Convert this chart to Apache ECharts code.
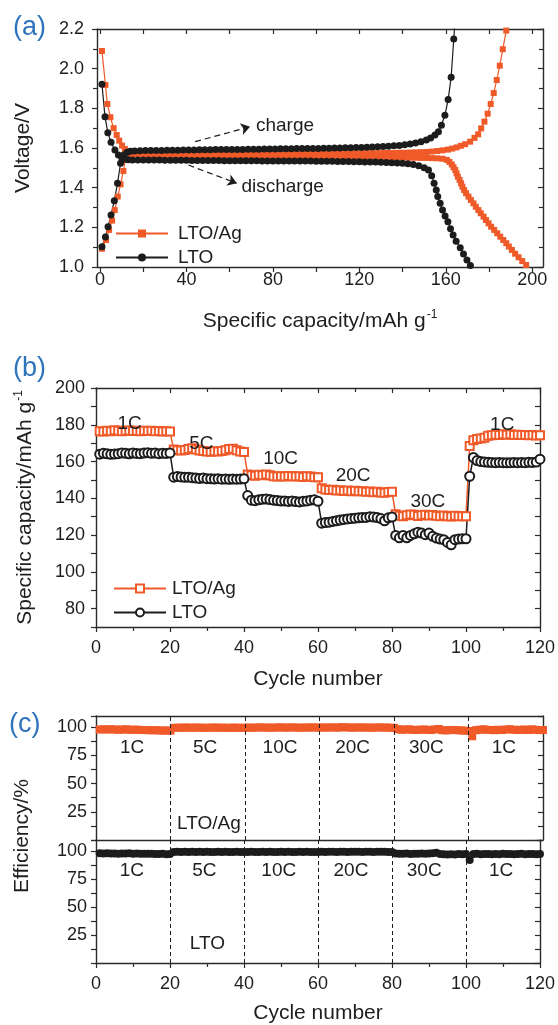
<!DOCTYPE html>
<html>
<head>
<meta charset="utf-8">
<script src="https://cdn.jsdelivr.net/npm/echarts@6/dist/echarts.min.js"></script>
<style>
html, body { margin: 0; padding: 0; background: #fff; }
#chart { width: 558px; height: 1025px; }
</style>
</head>
<body>
<div id="chart"></div>
<script>
// (a) charge/discharge profiles: [capacity mAh/g, voltage V]
var ltoAgCharge = [
  [0.9,1.092],[2.8,1.136],[4.2,1.187],[5.6,1.234],[6.8,1.287],[8.2,1.355],[9.5,1.417],[10.8,1.484],[11.7,1.540],[13,1.560],[14.5,1.567],
  [16,1.569],[18.5,1.570],[21,1.571],[23.5,1.571],[26,1.571],[28.5,1.572],[31,1.572],[33.5,1.572],[36,1.572],[38.5,1.572],
  [41,1.572],[43.5,1.572],[46,1.572],[48.5,1.573],[51,1.573],[53.5,1.573],[56,1.573],[58.5,1.573],[61,1.573],[63.5,1.573],
  [66,1.573],[68.5,1.573],[71,1.573],[73.5,1.573],[76,1.573],[78.5,1.573],[81,1.573],[83.5,1.573],[86,1.573],[88.5,1.573],
  [91,1.573],[93.5,1.573],[96,1.573],[98.5,1.573],[101,1.573],[103.5,1.573],[106,1.573],[108.5,1.573],[111,1.573],[113.5,1.573],
  [116,1.573],[118.5,1.573],[121,1.573],[123.5,1.574],[126,1.574],[128.5,1.574],[131,1.575],[133.5,1.575],[136,1.575],[138.5,1.576],
  [141,1.576],[143.5,1.577],[146,1.578],[148.5,1.579],[151,1.580],[153.5,1.582],[156,1.585],[158.5,1.588],[161,1.592],[163,1.597],
  [165,1.603],[167,1.611],[169,1.619],[171.3,1.632],[173.3,1.651],[175,1.669],[176.4,1.699],[177.9,1.733],[179.4,1.773],[180.8,1.822],
  [182.2,1.877],[183.6,1.943],[185,2.015],[186.4,2.098],[188,2.192],[188.5,2.240]
];
var ltoAgDischarge = [
  [0.9,2.089],[2.5,1.918],[3.4,1.822],[4.8,1.755],[6.3,1.700],[7.7,1.666],[8.9,1.637],[10.2,1.612],[11.5,1.595],[13,1.583],[14.5,1.575],
  [16,1.570],[18.5,1.567],[21,1.565],[23.5,1.564],[26,1.563],[28.5,1.562],[31,1.562],[33.5,1.561],[36,1.561],[38.5,1.560],
  [41,1.560],[43.5,1.560],[46,1.559],[48.5,1.559],[51,1.559],[53.5,1.559],[56,1.558],[58.5,1.558],[61,1.558],[63.5,1.558],
  [66,1.558],[68.5,1.557],[71,1.557],[73.5,1.557],[76,1.557],[78.5,1.557],[81,1.557],[83.5,1.556],[86,1.556],[88.5,1.556],
  [91,1.556],[93.5,1.556],[96,1.556],[98.5,1.555],[101,1.555],[103.5,1.555],[106,1.555],[108.5,1.555],[111,1.555],[113.5,1.554],
  [116,1.554],[118.5,1.554],[121,1.554],[123.5,1.554],[126,1.553],[128.5,1.553],[131,1.553],[133.5,1.553],[136,1.552],[138.5,1.552],
  [141,1.552],[143.5,1.551],[146,1.551],[148.5,1.550],[151,1.550],[153.5,1.549],[156,1.548],[158.5,1.546],
  [160.5,1.540],[161.7,1.530],[162.8,1.517],[163.6,1.503],[164.4,1.489],[165.0,1.472],[165.6,1.455],[166.4,1.439],[167.1,1.422],
  [167.7,1.405],[168.5,1.388],[169.4,1.372],[170.5,1.355],[171.6,1.338],[172.8,1.321],[173.9,1.304],[175.1,1.287],[176.2,1.271],
  [177.5,1.254],[178.6,1.237],[179.8,1.220],[181.0,1.203],[182.4,1.187],[183.8,1.170],[185.2,1.153],[186.6,1.136],[188.0,1.120],
  [189.2,1.103],[190.6,1.086],[192.1,1.067],[193.7,1.049],[195.4,1.030],[197.2,1.010]
];
var ltoCharge = [
  [0.9,1.102],[2.5,1.151],[3.7,1.203],[5.1,1.262],[6.6,1.334],[8.1,1.422],[9.5,1.523],[11,1.565],[12.5,1.578],[14,1.583],
  [16,1.585],[18.5,1.586],[21,1.587],[23.5,1.587],[26,1.588],[28.5,1.588],[31,1.589],[33.5,1.589],[36,1.589],[38.5,1.590],
  [41,1.590],[43.5,1.590],[46,1.591],[48.5,1.591],[51,1.591],[53.5,1.592],[56,1.592],[58.5,1.592],[61,1.593],[63.5,1.593],
  [66,1.593],[68.5,1.594],[71,1.594],[73.5,1.594],[76,1.595],[78.5,1.595],[81,1.595],[83.5,1.596],[86,1.596],[88.5,1.596],
  [91,1.597],[93.5,1.597],[96,1.597],[98.5,1.598],[101,1.598],[103.5,1.599],[106,1.599],[108.5,1.600],[111,1.600],[113.5,1.601],
  [116,1.601],[118.5,1.602],[121,1.603],[123.5,1.604],[126,1.605],[128.5,1.606],[131,1.607],[133.5,1.609],[136,1.611],[138.5,1.613],
  [141,1.616],[143.5,1.620],[146,1.625],[148.5,1.631],[151,1.640],[153,1.650],[155,1.665],[156.6,1.682],[158,1.715],[159.6,1.765],
  [161.1,1.844],[162.5,1.957],[163.7,2.150],[164.4,2.250]
];
var ltoDischarge = [
  [0.9,1.921],[2.3,1.758],[3.6,1.677],[5.1,1.629],[6.9,1.590],[8.5,1.565],[10,1.552],[11.5,1.545],[13,1.541],
  [15,1.540],[17.5,1.540],[20,1.539],[22.5,1.539],[25,1.539],[27.5,1.539],[30,1.538],[32.5,1.538],[35,1.538],[37.5,1.538],
  [40,1.538],[42.5,1.537],[45,1.537],[47.5,1.537],[50,1.537],[52.5,1.537],[55,1.537],[57.5,1.536],[60,1.536],[62.5,1.536],
  [65,1.536],[67.5,1.536],[70,1.536],[72.5,1.536],[75,1.535],[77.5,1.535],[80,1.535],[82.5,1.535],[85,1.535],[87.5,1.534],
  [90,1.534],[92.5,1.534],[95,1.534],[97.5,1.534],[100,1.533],[102.5,1.533],[105,1.533],[107.5,1.533],[110,1.532],[112.5,1.532],
  [115,1.532],[117.5,1.531],[120,1.531],[122.5,1.530],[125,1.530],[127.5,1.529],[130,1.528],[132.5,1.527],[135,1.526],[137.5,1.525],
  [140,1.523],[142.5,1.521],[145,1.517],[147.5,1.510],[150,1.500],[152,1.489],[153.5,1.460],[154.6,1.422],[155.6,1.388],[156.3,1.355],
  [157.4,1.321],[158.5,1.287],[159.7,1.257],[161,1.228],[162.2,1.193],[163.4,1.161],[164.8,1.130],[166.7,1.097],[168.2,1.066],
  [169.8,1.035],[171.4,1.008],[172.3,0.985]
];

// (b) rate capability, cycles 1..120 (mAh/g)
var ltoAgCapacity = [
  176.5,176.3,176.8,176.5,177.0,176.8,176.5,176.7,176.9,176.6,176.8,176.5,176.7,176.6,176.8,176.5,176.6,176.4,176.5,176.3,
  166.5,166.2,166.0,166.3,166.8,167.2,166.5,166.0,165.8,165.5,165.3,165.6,165.4,165.8,166.2,166.8,167.0,166.2,165.5,165.2,
  153.0,152.5,152.3,152.8,152.6,153.0,152.5,152.0,151.8,152.0,151.8,152.2,152.0,151.8,152.0,151.6,152.0,151.8,151.5,151.4,
  145.5,144.8,144.5,144.6,144.2,144.4,144.0,144.3,143.9,144.1,143.8,143.9,143.5,143.7,143.3,143.6,143.2,143.0,143.4,143.5,
  131.3,130.5,130.2,130.8,131.2,131.0,130.4,130.8,131.0,130.6,130.9,130.5,130.2,130.6,130.3,130.1,130.5,130.2,130.3,130.2,
  168.4,171.6,172.3,172.5,173.0,174.0,174.3,174.6,174.5,174.8,174.6,174.8,174.5,174.6,174.4,174.5,174.3,174.4,174.2,174.3
];
var ltoCapacity = [
  164.0,164.5,164.2,163.9,164.1,164.3,164.7,164.5,164.2,164.6,164.4,164.3,164.6,164.8,164.5,164.6,164.3,164.5,164.4,164.6,
  151.5,151.8,151.6,151.4,151.5,151.2,151.0,150.8,151.0,150.7,150.6,150.5,150.7,150.4,150.5,150.3,150.5,150.4,150.5,150.6,
  141.5,139.0,138.7,139.2,139.5,139.6,139.3,139.0,138.8,138.5,138.6,138.3,138.5,138.2,138.0,138.4,138.6,139.0,139.2,138.4,
  126.5,126.8,127.0,127.4,127.8,128.2,128.5,128.8,129.0,129.2,129.4,129.5,129.6,130.0,129.8,129.5,129.0,127.8,129.4,129.8,
  119.8,118.5,119.8,118.5,119.8,120.7,121.6,121.1,120.2,121.1,119.3,118.4,117.8,117.5,116.0,114.7,117.5,117.8,118.0,118.0,
  152.0,162.2,160.5,160.0,159.8,159.6,159.5,159.4,159.5,159.4,159.3,159.4,159.5,159.4,159.5,159.4,159.6,159.5,159.7,161.3
];

// (c) coulombic efficiency, cycles 1..120 (%)
var ltoAgEfficiency = [
  98.0,98.2,98.0,98.3,98.0,97.8,98.0,98.2,97.9,97.8,97.9,97.6,97.5,97.5,97.3,97.4,97.2,97.0,97.2,97.0,
  99.5,99.7,99.6,99.8,99.7,99.6,99.8,99.7,99.5,99.6,99.7,99.8,99.6,99.7,99.5,99.6,99.7,99.6,99.5,99.6,
  99.7,99.6,99.8,99.9,99.7,99.8,99.6,99.7,99.9,99.8,99.7,99.8,99.9,99.7,99.6,99.8,99.7,99.9,99.8,99.7,
  99.8,99.7,99.9,99.8,99.7,100.1,99.9,99.8,99.7,99.8,99.9,99.7,99.8,99.6,99.8,99.9,99.7,99.8,99.6,99.5,
  98.3,97.8,98.0,98.2,97.8,97.6,97.9,98.0,97.8,97.6,98.1,98.5,97.4,97.2,97.5,97.6,97.4,97.2,97.0,96.8,
  92.0,97.4,97.8,98.2,97.8,97.6,97.4,97.8,97.6,98.0,98.3,97.9,97.6,97.8,98.0,97.6,98.2,97.8,97.5,97.6
];
var ltoEfficiency = [
  98.2,98.0,98.1,97.9,98.0,97.8,98.0,97.9,98.1,97.8,98.0,97.7,97.8,97.6,97.8,97.5,97.4,97.6,97.3,97.5,
  99.2,99.4,99.3,99.5,99.3,99.4,99.2,99.5,99.3,99.4,99.2,99.3,99.5,99.3,99.4,99.2,99.3,99.4,99.3,99.2,
  99.3,99.4,99.2,99.3,99.5,99.3,99.4,99.2,99.3,99.4,99.3,99.5,99.3,99.2,99.4,99.3,99.4,99.3,99.2,99.3,
  99.4,99.3,99.5,99.4,99.3,99.4,99.5,99.3,99.4,99.5,99.4,99.3,99.4,99.5,99.3,99.4,99.5,99.4,99.3,99.2,
  98.0,97.6,97.8,98.0,97.5,97.8,97.6,98.0,97.7,97.9,98.2,98.6,97.5,97.2,97.0,97.3,97.1,97.4,97.2,97.5,
  92.2,97.4,97.6,97.3,97.5,97.4,97.2,97.5,97.3,97.6,97.4,97.5,97.3,97.4,97.6,97.3,97.5,97.4,97.2,97.4
];

// rate step boundaries and text labels [x, y, text]
var rateBounds = [20, 40, 60, 80, 100];
var rateLabelsB = [[9.1,180.4,'1C'],[28.5,169.4,'5C'],[49.9,161.3,'10C'],[69.5,152,'20C'],[89.7,138.3,'30C'],[109.8,179.8,'1C']];
var rateLabelsCTop = [[9.7,82,'1C'],[29.3,82,'5C'],[49.4,82,'10C'],[68.9,82,'20C'],[88.7,82,'30C'],[109.5,82,'1C'],[30.3,14.4,'LTO/Ag']];
var rateLabelsCBot = [[9.7,82.6,'1C'],[29.3,82.6,'5C'],[49.4,82.6,'10C'],[68.9,82.6,'20C'],[88.7,82.6,'30C'],[109.5,82.6,'1C'],[30.1,17.2,'LTO']];
var profileLabels = [[85.6,1.711,'charge'],[84.5,1.403,'discharge']];

// axis ticks / labels
var capTicks = [0, 20, 40, 60, 80, 100, 120, 140, 160, 180, 200];
var capLabels = [0, 40, 80, 120, 160, 200];

var cycles = [];
for (var i = 1; i <= 120; i++) cycles.push(i);
function pairs(vals) {
  return vals.map(function (v, i) { return [cycles[i], v]; });
}

var orange = '#ef5a28';
var black = '#1c1c1c';
var axisColor = '#2a2a2a';
var textColor = '#1e1e1e';
var fontFamily = '"Liberation Sans", Arial, sans-serif';
var tickFont = 18;
var nameFont = 21;
var noteFont = 19;

var myChart = echarts.init(document.getElementById('chart'), null, { renderer: 'canvas' });

function axisLine() {
  return { show: true, onZero: false, lineStyle: { color: axisColor, width: 1.4 } };
}
function tickStyle() {
  return { color: axisColor, width: 1.2 };
}
function labelStyle(margin, extra) {
  return Object.assign({ color: textColor, fontSize: tickFont, fontFamily: fontFamily, margin: margin }, extra || {});
}
function nameStyle() {
  return {
    color: textColor, fontSize: nameFont, fontFamily: fontFamily,
    rich: { sup: { fontSize: 12, fontFamily: fontFamily, color: textColor, verticalAlign: 'top', padding: [0, 0, 12, 1] } }
  };
}
function mirror(grid, pos, opts) {
  var a = {
    gridIndex: grid, type: 'value', position: pos,
    axisLine: axisLine(), splitLine: { show: false },
    axisTick: { show: true, inside: true, length: 5, lineStyle: tickStyle() },
    axisLabel: { show: false }
  };
  return Object.assign(a, opts);
}
function labelSeries(data, xi, yi, size) {
  return {
    type: 'scatter', xAxisIndex: xi, yAxisIndex: yi, silent: true, z: 10,
    symbolSize: 0, data: data,
    itemStyle: { color: textColor },
    label: {
      show: true, position: 'inside', color: textColor, fontSize: size, fontFamily: fontFamily,
      textBorderWidth: 0, textBorderColor: 'transparent', opacity: 1,
      formatter: function (p) { return p.value[2]; }
    }
  };
}
function cycleAxis(grid, gap, margin) {
  return {
    gridIndex: grid, type: 'value', position: 'bottom', min: 0, max: 120, interval: 20,
    axisLine: axisLine(), splitLine: { show: false },
    axisTick: { show: true, length: 5, lineStyle: tickStyle() },
    minorTick: { show: true, splitNumber: 2, length: 4, lineStyle: tickStyle() },
    axisLabel: labelStyle(margin),
    name: 'Cycle number', nameLocation: 'middle', nameGap: gap, nameTextStyle: nameStyle()
  };
}
function effAxis(grid) {
  return {
    gridIndex: grid, type: 'value', min: 0, max: 110, interval: 12.5,
    axisLine: axisLine(), splitLine: { show: false },
    axisTick: { show: true, length: 5, lineStyle: tickStyle() },
    axisLabel: labelStyle(9, {
      formatter: function (v) { return (v > 0 && v <= 100 && v % 25 === 0) ? String(v) : ''; }
    })
  };
}
function legendOf(names, left, top, textPad) {
  return {
    left: left, top: top, orient: 'vertical', padding: 0,
    itemWidth: 52, itemHeight: 10, itemGap: 5,
    data: names,
    formatter: function (n) { return n.slice(2); },
    textStyle: { fontSize: noteFont, color: textColor, fontFamily: fontFamily, padding: [0, 0, 0, textPad] }
  };
}

var option = {
  animation: false,
  backgroundColor: '#fff',
  textStyle: { fontFamily: fontFamily },
  grid: [
    { left: 97, top: 29, width: 446, height: 238 },
    { left: 96, top: 388, width: 447, height: 239 },
    { left: 96, top: 716, width: 447, height: 124 },
    { left: 96, top: 840, width: 447, height: 124 }
  ],
  legend: [
    legendOf(['a-LTO/Ag', 'a-LTO'], 115, 224, 5),
    legendOf(['b-LTO/Ag', 'b-LTO'], 113, 579, 1)
  ],
  graphic: [
    { type: 'text', left: 13, top: 14, style: { text: '(a)', fill: '#2f73bd', font: '27px ' + fontFamily } },
    { type: 'text', left: 13, top: 355, style: { text: '(b)', fill: '#2f73bd', font: '27px ' + fontFamily } },
    { type: 'text', left: 9, top: 711, style: { text: '(c)', fill: '#2f73bd', font: '27px ' + fontFamily } },
    {
      type: 'text', x: 22, y: 836, rotation: Math.PI / 2,
      style: { text: 'Efficiency/%', fill: textColor, font: nameFont + 'px ' + fontFamily, textAlign: 'center', textVerticalAlign: 'middle' }
    }
  ],
  xAxis: [
    {
      gridIndex: 0, type: 'value', position: 'bottom', min: -1.4, max: 205,
      axisLine: axisLine(), splitLine: { show: false },
      axisTick: { show: true, length: 5, customValues: capTicks, lineStyle: tickStyle() },
      axisLabel: labelStyle(4, { customValues: capLabels }),
      name: 'Specific capacity/mAh g{sup|-1}', nameLocation: 'middle', nameGap: 42,
      nameTextStyle: nameStyle()
    },
    mirror(0, 'top', { min: -1.4, max: 205, axisTick: { show: true, inside: true, length: 5, customValues: capTicks, lineStyle: tickStyle() } }),
    cycleAxis(1, 42, 12),
    mirror(1, 'top', { min: 0, max: 120, interval: 20, minorTick: { show: true, splitNumber: 2, length: 4, lineStyle: tickStyle() } }),
    mirror(2, 'bottom', { min: 0, max: 120, interval: 20, axisTick: { show: false } }),
    mirror(2, 'top', { min: 0, max: 120, interval: 20, axisTick: { show: false } }),
    cycleAxis(3, 40, 12)
  ],
  yAxis: [
    {
      gridIndex: 0, type: 'value', min: 1.0, max: 2.2, interval: 0.2,
      axisLine: axisLine(), splitLine: { show: false },
      axisTick: { show: true, length: 5, lineStyle: tickStyle() },
      minorTick: { show: true, splitNumber: 2, length: 4, lineStyle: tickStyle() },
      axisLabel: labelStyle(13, { formatter: function (v) { return v.toFixed(1); } }),
      name: 'Voltage/V', nameLocation: 'middle', nameGap: 63,
      nameTextStyle: nameStyle()
    },
    mirror(0, 'right', { min: 1.0, max: 2.2, interval: 0.2, minorTick: { show: true, splitNumber: 2, length: 4, lineStyle: tickStyle() } }),
    {
      gridIndex: 1, type: 'value', min: 70, max: 200, interval: 10,
      axisLine: axisLine(), splitLine: { show: false },
      axisTick: { show: true, length: 5, lineStyle: tickStyle() },
      axisLabel: labelStyle(11, { formatter: function (v) { return v % 20 === 0 ? String(v) : ''; } }),
      name: 'Specific capacity/mAh g{sup|-1}', nameLocation: 'middle', nameGap: 59,
      nameTextStyle: nameStyle()
    },
    mirror(1, 'right', { min: 70, max: 200, interval: 10 }),
    effAxis(2),
    mirror(2, 'right', { min: 0, max: 110, interval: 12.5 }),
    effAxis(3),
    mirror(3, 'right', { min: 0, max: 110, interval: 12.5 })
  ],
  series: [
    // ---- (a)
    {
      name: 'a-LTO/Ag', type: 'line', xAxisIndex: 0, yAxisIndex: 0, data: ltoAgCharge,
      symbol: 'rect', symbolSize: 6, color: orange, lineStyle: { width: 1.2, color: orange }, clip: true
    },
    {
      name: 'a-LTO/Ag', type: 'line', xAxisIndex: 0, yAxisIndex: 0, data: ltoAgDischarge,
      symbol: 'rect', symbolSize: 6, color: orange, lineStyle: { width: 1.2, color: orange }, clip: true
    },
    {
      name: 'a-LTO', type: 'line', xAxisIndex: 0, yAxisIndex: 0, data: ltoCharge,
      symbol: 'circle', symbolSize: 7, color: black, lineStyle: { width: 1.2, color: black }, clip: true
    },
    {
      name: 'a-LTO', type: 'line', xAxisIndex: 0, yAxisIndex: 0, data: ltoDischarge,
      symbol: 'circle', symbolSize: 7, color: black, lineStyle: { width: 1.2, color: black }, clip: true,
      markLine: {
        silent: true, symbol: ['none', 'arrow'], symbolSize: 9, label: { show: false },
        lineStyle: { type: [6, 4], color: black, width: 1.2 },
        data: [
          [{ coord: [44, 1.632] }, { coord: [69.4, 1.707] }],
          [{ coord: [40.9, 1.514] }, { coord: [63.3, 1.422] }]
        ]
      }
    },
    labelSeries(profileLabels, 0, 0, noteFont),
    // ---- (b)
    {
      name: 'b-LTO/Ag', type: 'line', xAxisIndex: 2, yAxisIndex: 2, data: pairs(ltoAgCapacity),
      symbol: 'emptyRect', symbolSize: 8, color: orange,
      itemStyle: { color: orange, borderWidth: 1.2 }, lineStyle: { width: 1.5, color: orange }
    },
    {
      name: 'b-LTO', type: 'line', xAxisIndex: 2, yAxisIndex: 2, data: pairs(ltoCapacity),
      symbol: 'emptyCircle', symbolSize: 9, color: black,
      itemStyle: { color: black, borderWidth: 1.2 }, lineStyle: { width: 1.5, color: black }
    },
    labelSeries(rateLabelsB, 2, 2, noteFont),
    // ---- (c)
    {
      name: 'c-LTO/Ag', type: 'line', xAxisIndex: 4, yAxisIndex: 4, data: pairs(ltoAgEfficiency),
      symbol: 'rect', symbolSize: 8, color: orange, lineStyle: { width: 1, color: orange },
      markLine: {
        silent: true, symbol: 'none', label: { show: false },
        lineStyle: { type: [4, 3], color: black, width: 1 },
        data: rateBounds.map(function (b) { return { xAxis: b }; })
      }
    },
    labelSeries(rateLabelsCTop, 4, 4, noteFont),
    {
      name: 'c-LTO', type: 'line', xAxisIndex: 6, yAxisIndex: 6, data: pairs(ltoEfficiency),
      symbol: 'circle', symbolSize: 8, color: black, lineStyle: { width: 1, color: black },
      markLine: {
        silent: true, symbol: 'none', label: { show: false },
        lineStyle: { type: [4, 3], color: black, width: 1 },
        data: rateBounds.map(function (b) { return { xAxis: b }; })
      }
    },
    labelSeries(rateLabelsCBot, 6, 6, noteFont)
  ]
};

myChart.setOption(option);
window.addEventListener('resize', function () { myChart.resize(); });
</script>
</body>
</html>
